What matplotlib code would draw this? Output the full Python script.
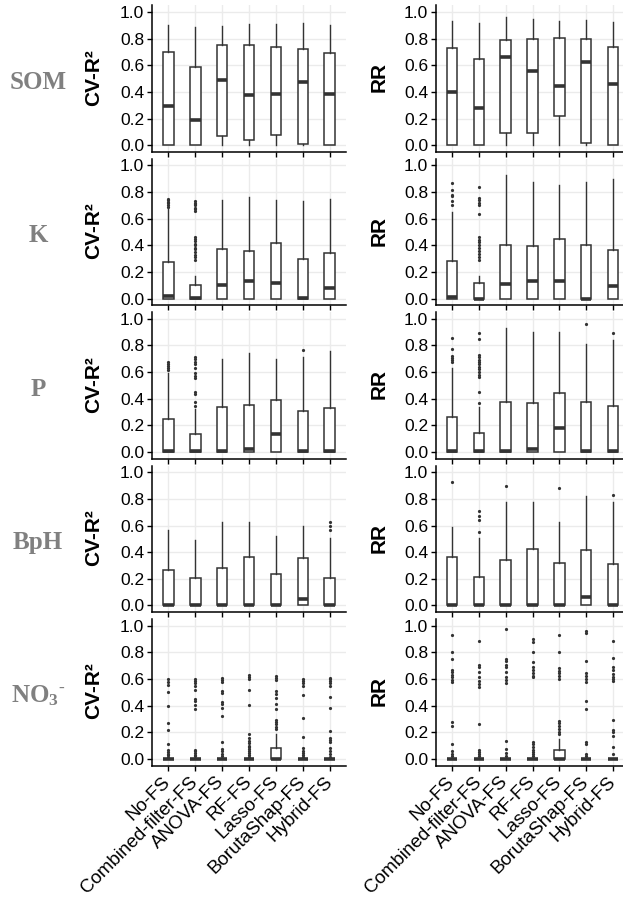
import numpy as np
import matplotlib.pyplot as plt
from matplotlib.transforms import ScaledTranslation

plt.rcParams['font.family'] = ['Liberation Sans', 'DejaVu Sans']
plt.rcParams['mathtext.fontset'] = 'custom'
plt.rcParams['mathtext.bf'] = 'Liberation Serif:bold'
plt.rcParams['mathtext.rm'] = 'Liberation Serif:bold'

# categories
methods = ['No-FS', 'Combined-filter-FS', 'ANOVA-FS', 'RF-FS', 'Lasso-FS',
           'BorutaShap-FS', 'Hybrid-FS']
props = ['SOM', 'K', 'P', 'BpH', r'$\mathbf{NO_3}^{\text{-}}$']
metrics = ['CV-R²', 'RR']

# box statistics (upper whisker, q3, median, q1), outliers per box
som_cv = dict(hi=[0.905, 0.887, 0.897, 0.912, 0.91, 0.917, 0.905],
              q3=[0.70, 0.59, 0.75, 0.75, 0.74, 0.724, 0.69],
              med=[0.296, 0.19, 0.487, 0.374, 0.384, 0.475, 0.382],
              q1=[0.0, 0.0, 0.073, 0.043, 0.078, 0.013, 0.0],
              out=[[], [], [], [], [], [], []])
som_rr = dict(hi=[0.935, 0.917, 0.96, 0.947, 0.935, 0.942, 0.925],
              q3=[0.729, 0.646, 0.79, 0.80, 0.806, 0.80, 0.736],
              med=[0.40, 0.281, 0.666, 0.555, 0.447, 0.626, 0.457],
              q1=[0.0, 0.0, 0.095, 0.09, 0.216, 0.018, 0.0],
              out=[[], [], [], [], [], [], []])

k_cv = dict(hi=[0.68, 0.17, 0.74, 0.76, 0.74, 0.73, 0.75],
            q3=[0.275, 0.10, 0.37, 0.355, 0.415, 0.30, 0.34],
            med=[0.017, 0.005, 0.10, 0.135, 0.12, 0.005, 0.078],
            q1=[0, 0, 0, 0, 0, 0, 0],
            out=[[0.748, 0.737, 0.727, 0.717, 0.705, 0.69],
                 [0.73, 0.72, 0.71, 0.70, 0.68, 0.67, 0.655, 0.46, 0.45, 0.43,
                  0.41, 0.40, 0.38, 0.37, 0.35, 0.33, 0.31, 0.29],
                 [], [], [], [], []])
k_rr = dict(hi=[0.65, 0.17, 0.925, 0.875, 0.857, 0.875, 0.895],
            q3=[0.28, 0.12, 0.40, 0.393, 0.446, 0.40, 0.366],
            med=[0.015, 0.0, 0.11, 0.133, 0.135, 0.0, 0.098],
            q1=[0, 0, 0, 0, 0, 0, 0],
            out=[[0.867, 0.817, 0.78, 0.767, 0.73, 0.706],
                 [0.835, 0.754, 0.737, 0.72, 0.70, 0.636, 0.46, 0.444, 0.424,
                  0.40, 0.38, 0.36, 0.336, 0.31, 0.293],
                 [], [], [], [], []])

p_cv = dict(hi=[0.59, 0.32, 0.70, 0.74, 0.70, 0.716, 0.757],
            q3=[0.246, 0.138, 0.339, 0.35, 0.39, 0.307, 0.33],
            med=[0.008, 0.008, 0.008, 0.022, 0.133, 0.008, 0.008],
            q1=[0, 0, 0, 0, 0, 0, 0],
            out=[[0.673, 0.66, 0.646, 0.628, 0.615],
                 [0.716, 0.70, 0.678, 0.658, 0.628, 0.59, 0.573, 0.553, 0.452,
                  0.435, 0.377, 0.347],
                 [], [], [], [0.766], []])
p_rr = dict(hi=[0.63, 0.336, 0.93, 0.904, 0.904, 0.81, 0.84],
            q3=[0.263, 0.14, 0.374, 0.37, 0.444, 0.374, 0.343],
            med=[0.005, 0.005, 0.005, 0.02, 0.177, 0.005, 0.005],
            q1=[0, 0, 0, 0, 0, 0, 0],
            out=[[0.853, 0.773, 0.722, 0.707, 0.69, 0.677],
                 [0.896, 0.848, 0.732, 0.715, 0.694, 0.677, 0.66, 0.64, 0.62,
                  0.60, 0.58, 0.56, 0.45, 0.37],
                 [], [], [], [0.96], [0.896]])

bph_cv = dict(hi=[0.564, 0.494, 0.624, 0.63, 0.524, 0.60, 0.505],
              q3=[0.263, 0.205, 0.28, 0.36, 0.233, 0.356, 0.208],
              med=[0.005, 0.005, 0.005, 0.005, 0.005, 0.05, 0.005],
              q1=[0, 0, 0, 0, 0, 0, 0],
              out=[[], [], [], [], [], [], [0.623, 0.593, 0.568]])
bph_rr = dict(hi=[0.588, 0.505, 0.78, 0.774, 0.623, 0.819, 0.774],
              q3=[0.362, 0.216, 0.342, 0.422, 0.317, 0.417, 0.312],
              med=[0.005, 0.005, 0.005, 0.005, 0.005, 0.06, 0.005],
              q1=[0, 0, 0, 0, 0, 0, 0],
              out=[[0.925], [0.706, 0.668, 0.643, 0.548], [0.90], [], [0.882],
                   [], [0.83]])

no3_cv = dict(hi=[0, 0, 0, 0, 0.19, 0, 0],
              q3=[0, 0, 0, 0, 0.081, 0, 0],
              med=[0, 0, 0, 0, 0.002, 0, 0],
              q1=[0, 0, 0, 0, 0, 0, 0],
              out=[[0.603, 0.579, 0.554, 0.50, 0.394, 0.271, 0.217, 0.111,
                    0.069, 0.052, 0.04, 0.027, 0.017],
                   [0.599, 0.586, 0.569, 0.549, 0.52, 0.45, 0.436, 0.406, 0.377,
                    0.069, 0.057, 0.044, 0.032, 0.02],
                   [0.608, 0.591, 0.574, 0.51, 0.495, 0.43, 0.41, 0.38, 0.32,
                    0.128, 0.074, 0.057, 0.04, 0.022],
                   [0.628, 0.618, 0.603, 0.515, 0.406, 0.185, 0.16, 0.135, 0.118,
                    0.10, 0.086, 0.071, 0.057, 0.042, 0.027, 0.015],
                   [0.623, 0.608, 0.594, 0.512, 0.49, 0.456, 0.414, 0.377, 0.29,
                    0.273, 0.259, 0.241, 0.224],
                   [0.599, 0.584, 0.569, 0.549, 0.48, 0.303, 0.167, 0.081, 0.062,
                    0.047, 0.032, 0.017],
                   [0.61, 0.598, 0.586, 0.569, 0.55, 0.467, 0.38, 0.21, 0.16,
                    0.145, 0.127, 0.082, 0.057, 0.037, 0.017]])
no3_rr = dict(hi=[0, 0, 0, 0, 0.15, 0, 0],
              q3=[0, 0, 0, 0, 0.068, 0, 0],
              med=[0, 0, 0, 0, 0.002, 0, 0],
              q1=[0, 0, 0, 0, 0, 0, 0],
              out=[[0.93, 0.80, 0.75, 0.668, 0.65, 0.633, 0.613, 0.593, 0.575,
                    0.275, 0.245, 0.113, 0.058, 0.038, 0.02],
                   [0.888, 0.708, 0.693, 0.65, 0.613, 0.583, 0.563, 0.538, 0.258,
                    0.068, 0.05, 0.033, 0.02],
                   [0.975, 0.75, 0.733, 0.708, 0.688, 0.65, 0.613, 0.593, 0.573,
                    0.133, 0.075, 0.043, 0.023],
                   [0.90, 0.875, 0.80, 0.725, 0.693, 0.668, 0.643, 0.625, 0.613,
                    0.125, 0.108, 0.088, 0.068, 0.053, 0.038, 0.023],
                   [0.93, 0.80, 0.683, 0.663, 0.643, 0.625, 0.60, 0.283, 0.268,
                    0.25, 0.225, 0.2, 0.183],
                   [0.963, 0.945, 0.738, 0.643, 0.625, 0.60, 0.575, 0.433, 0.375,
                    0.125, 0.108, 0.038, 0.02],
                   [0.883, 0.755, 0.693, 0.668, 0.638, 0.618, 0.598, 0.583, 0.293,
                    0.218, 0.198, 0.175, 0.088, 0.038]])

panels = [[som_cv, som_rr], [k_cv, k_rr], [p_cv, p_rr], [bph_cv, bph_rr],
          [no3_cv, no3_rr]]

W, H = 623, 913
fig = plt.figure(figsize=(W / 100, H / 100), dpi=100)

col_left = [152, 436]
col_width = [194, 193]
row_h = 146.5
dark = '#333333'

for i, row in enumerate(panels):
    top = 5.4 + i * 153.4
    for j, d in enumerate(row):
        ax = fig.add_axes([col_left[j] / W, 1 - (top + row_h) / H,
                           col_width[j] / W, row_h / H])
        stats = []
        for k in range(len(methods)):
            stats.append(dict(whislo=0.0, q1=d['q1'][k], med=d['med'][k],
                              q3=d['q3'][k], whishi=d['hi'][k],
                              fliers=np.array(d['out'][k])))
        ax.bxp(stats, positions=np.arange(1, 8), widths=0.4, patch_artist=True,
               showcaps=False,
               boxprops=dict(facecolor='white', edgecolor=dark, linewidth=1.1),
               medianprops=dict(color=dark, linewidth=2.6, solid_capstyle='butt'),
               whiskerprops=dict(color=dark, linewidth=1.0),
               flierprops=dict(marker='o', markersize=2.3, markerfacecolor=dark,
                               markeredgecolor='none'))
        ax.set_xlim(0.4, 7.6)
        ax.set_ylim(-0.05, 1.05)
        ax.set_yticks([0, 0.2, 0.4, 0.6, 0.8, 1.0])
        ax.set_yticklabels(['0.0', '0.2', '0.4', '0.6', '0.8', '1.0'])
        ax.set_xticks(np.arange(1, 8))
        ax.tick_params(direction='out', length=3.5, width=1, colors='black',
                       pad=2)
        ax.tick_params(axis='y', labelsize=12.5)
        if i == len(panels) - 1:
            labels = ax.set_xticklabels(methods, rotation=45, ha='right',
                                        va='top', rotation_mode='anchor',
                                        fontsize=13.5)
            # nudge labels a little left so the last one stays inside the figure
            shift = ScaledTranslation(-6 / 100, 0, fig.dpi_scale_trans)
            for lab in labels:
                lab.set_transform(lab.get_transform() + shift)
        else:
            ax.set_xticklabels([])
        ax.set_axisbelow(True)
        ax.grid(True, color='#EBEBEB', linewidth=1)
        for s in ['top', 'right']:
            ax.spines[s].set_visible(False)
        for s in ['left', 'bottom']:
            ax.spines[s].set_linewidth(1.1)
            ax.spines[s].set_color('black')
        # y axis label
        lx = [94, 379][j]
        fig.text(lx / W, 1 - (top + 72) / H, metrics[j], rotation=90,
                 ha='center', va='center', fontsize=15, fontweight='bold')
    # row label
    fig.text(38 / W, 1 - (top + 77) / H, props[i], ha='center', va='center',
             fontsize=18, fontweight='bold', color='#808080',
             family=['Liberation Serif'])

fig.savefig('out.png', dpi=100)
